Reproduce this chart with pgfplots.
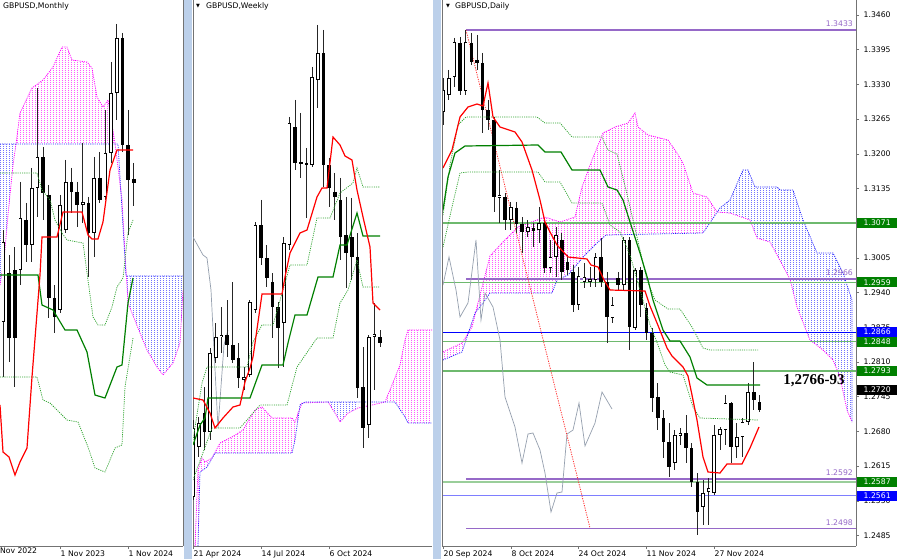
\documentclass[border=0pt]{standalone}
\usepackage{fontspec}
\setmainfont{DejaVu Sans}
\newfontfamily\tnr{Liberation Serif}
\usepackage{pgfplots}
\pgfplotsset{compat=1.18}
\usepackage{pgfplotstable}
\usetikzlibrary{patterns}
\pgfdeclarepatternformonly{vdots}{\pgfqpoint{0pt}{0pt}}{\pgfqpoint{2.83pt}{2pt}}{\pgfqpoint{2.83pt}{2pt}}{\pgfpathrectangle{\pgfqpoint{0pt}{0pt}}{\pgfqpoint{0.9pt}{1pt}}\pgfusepath{fill}}
\definecolor{sepblue}{RGB}{188,208,234}
\definecolor{ared}{RGB}{255,0,0}
\definecolor{kgreen}{RGB}{0,128,0}
\definecolor{dgreen}{RGB}{50,165,50}
\definecolor{cgray}{RGB}{150,160,175}
\definecolor{lpurple}{RGB}{150,105,200}
\definecolor{lgreen}{RGB}{110,185,110}
\definecolor{boxgreen}{RGB}{0,128,0}
\definecolor{boxblue}{RGB}{0,0,255}
\definecolor{cmag}{RGB}{255,0,255}
\definecolor{cblue}{RGB}{40,40,255}
\newcommand{\tf}{\fontsize{7.7}{9}\selectfont}

% ---------- candle tables (pixel rows: top/bottom of body, high/low) ----------
\pgfplotstableread{
x top bot hi lo
3.3 242 322 230 377
20.3 218 270 182 285
31.7 188 245 168 262
37.3 157 188 88 217
60 205 310 195 313
65.7 182 230 160 233
82.7 202 205 143 223
94 178 233 157 257
105.3 153 197 110 200
111 93 153 62 163
116.7 38 93 24 120
}\mbull
\pgfplotstableread{
x top bot hi lo
9 273 338 255 362
14.7 270 338 247 387
26 220 245 203 262
43 157 193 147 220
48.7 195 298 185 318
54.3 298 317 285 333
71.3 182 192 168 213
77 192 205 182 227
88.3 203 233 197 277
99.7 178 200 152 203
122.3 38 145 33 152
128 145 180 110 235
133.7 179 183 163 206
}\mbear
\pgfplotstableread{
x top bot hi lo
193 428 497 420 500
198.7 423 447 417 457
210 353 432 348 440
215.7 337 358 323 363
221.3 335 337 307 353
244 377 380 367 390
249.7 302 375 300 377
255.3 225 310 222 313
283.7 243 323 237 367
289.3 123 245 117 250
312 77 165 67 167
317.7 53 80 25 108
368.7 337 425 335 438
374.3 334 337 303 390
}\wbull
\pgfplotstableread{
x top bot hi lo
204.3 413 432 387 450
227 335 345 300 357
232.7 345 360 282 363
238.3 358 378 343 388
261 225 258 200 265
266.7 258 278 245 287
272.3 282 307 273 338
278 307 328 302 368
295 127 163 100 170
300.7 162 164 113 178
306.3 163 165 148 218
323.3 53 165 30 187
329 165 188 158 207
334.7 192 197 173 220
340.3 200 237 178 260
346 235 253 197 288
351.7 237 257 198 280
357.3 257 388 233 398
363 387 428 347 448
380 337 343 330 347
}\wbear
\pgfplotstableread{
x top bot hi lo
443 90 112 78 125
448.7 78 95 70 100
454.3 42 77 38 87
465.6 42 91 30 95
499.5 195 198 170 223
510.8 207 220 202 230
527.8 227 232 220 237
539.1 223 230 207 243
550.4 257 268 240 273
556 235 257 227 277
578.6 276 305 267 310
584.3 277 282 263 288
589.9 279 282 267 287
595.6 257 280 253 287
612.5 305 318 297 323
623.8 240 285 237 290
635.1 270 328 268 330
674.7 435 463 430 470
680.3 433 436 428 445
702.9 493 507 480 525
708.6 488 492 478 525
714.2 435 493 425 495
719.9 429 435 427 450
725.5 403 430 395 445
736.8 437 447 423 458
742.5 422 437 418 457
748.1 392 422 383 425
}\dbull
\pgfplotstableread{
x top bot hi lo
460 43 91 37 95
471.3 43 62 33 65
476.9 60 63 35 70
482.6 63 110 53 133
488.2 110 120 100 130
493.9 120 197 117 212
505.2 197 220 193 230
516.5 208 224 202 233
522.1 224 232 217 253
533.4 228 231 223 247
544.7 223 268 220 273
561.7 240 272 233 280
567.3 262 270 255 275
573 272 305 265 312
601.2 257 282 238 287
606.9 282 317 272 343
618.2 278 285 272 290
629.5 240 327 237 350
640.8 270 305 267 317
646.4 308 333 303 340
652.1 333 398 328 412
657.7 397 418 383 430
663.4 418 442 410 458
669 442 467 423 477
686 433 448 415 463
691.6 448 482 443 487
697.3 482 512 473 535
731.2 403 447 402 463
753.8 392 400 362 410
759.4 402 410 395 412
}\dbear

\pgfplotsset{
 panel/.style={scale only axis, anchor=north west, ymin=-546, ymax=0,
   axis x line*=bottom, axis line style={-, draw=black!55, line width=0.6pt},
   tick align=outside, major tick length=3pt, tick style={draw=black!55, line width=0.5pt},
   ytick=\empty,
   xticklabel style={anchor=north west, inner sep=0pt, xshift=0.5pt, yshift=-1.2pt, font=\tf},
   yticklabel style={anchor=west, inner sep=0pt, xshift=4.5pt, font=\tf}},
 wick/.style={draw=none, forget plot, error bars/.cd, y dir=minus, y explicit, error mark=none,
   error bar style={draw=black!85, line width=0.7pt, solid}},
 bodyk/.style={draw=none, forget plot, error bars/.cd, y dir=minus, y explicit, error mark=none,
   error bar style={draw=black, line width=3.6pt, solid}},
 bodyw/.style={draw=none, forget plot, error bars/.cd, y dir=minus, y explicit, error mark=none,
   error bar style={draw=white, line width=2.2pt, solid}},
 dotl/.style={dash pattern=on 1.1pt off 1.1pt, line width=0.75pt},
}
\newcommand{\candles}[2]{%
 \addplot[wick] table[x=x, y expr=-\thisrow{hi}, y error minus expr={\thisrow{lo}-\thisrow{hi}}] {#1};
 \addplot[wick] table[x=x, y expr=-\thisrow{hi}, y error minus expr={\thisrow{lo}-\thisrow{hi}}] {#2};
 \addplot[bodyk] table[x=x, y expr=-\thisrow{top}, y error minus expr={\thisrow{bot}-\thisrow{top}}] {#1};
 \addplot[bodyw] table[x=x, y expr=-\thisrow{top}-0.7, y error minus expr={\thisrow{bot}-\thisrow{top}-1.4}] {#1};
 \addplot[bodyk] table[x=x, y expr=-\thisrow{top}, y error minus expr={\thisrow{bot}-\thisrow{top}}] {#2};
}

\begin{document}
\begin{tikzpicture}
\fill[white] (0,0) rectangle (900pt,-559pt);

% ================= MONTHLY =================
\begin{axis}[panel, at={(0pt,0pt)}, width=183pt, height=546pt, xmin=0, xmax=183,
  axis y line*=right, xtick={60,128}, xticklabels={1 Nov 2023,1 Nov 2024}]
\addplot[draw=none, pattern=vdots, pattern color=cblue, forget plot] coordinates {(0,-144)(16,-144)(13,-165)(8,-215)(4,-260)(0,-285)};
\addplot[draw=none, pattern=vdots, pattern color=cmag, forget plot] coordinates {(16,-144)(20,-113)(32,-88)(43,-80)(53,-67)(62,-47)(67,-47)(72,-60)(87,-62)(92,-68)(97,-97)(103,-107)(108,-100)(115,-143)(16,-144)};
\addplot[draw=none, pattern=vdots, pattern color=cblue, forget plot] coordinates {(126,-276)(183,-276)(183,-290)(180,-343)(173,-363)(163,-375)(157,-367)(147,-350)(140,-333)(128,-303)};
\addplot[cmag, dotl] coordinates {(0,-285)(4,-260)(8,-215)(13,-165)(16,-144)(20,-113)(32,-88)(43,-80)(53,-67)(62,-47)(67,-47)(72,-60)(87,-62)(92,-68)(97,-97)(103,-107)(108,-100)(115,-143)(122,-200)(126,-270)(128,-303)(140,-333)(147,-350)(157,-367)(163,-375)(173,-363)(180,-343)(183,-290)};
\addplot[cblue, dotl] coordinates {(0,-144)(118,-144)(126,-276)(183,-276)};
\candles{\mbull}{\mbear}
\addplot[dgreen, dotl] coordinates {(0,-173)(37,-173)(42,-190)(50,-200)(55,-220)(62,-233)(67,-240)(83,-243)(88,-280)(93,-317)(98,-325)(105,-325)(112,-307)(117,-287)(123,-278)(128,-233)(133,-220)};
\addplot[dgreen, dotl] coordinates {(0,-377)(37,-377)(43,-400)(50,-403)(67,-420)(78,-422)(88,-447)(95,-468)(105,-472)(115,-448)(122,-445)(125,-387)(133,-338)};
\addplot[kgreen, line width=1.2pt] coordinates {(0,-275)(38,-275)(42,-305)(53,-310)(65,-330)(77,-330)(87,-352)(95,-395)(105,-398)(117,-367)(122,-365)(128,-303)(133,-278)};
\addplot[ared, line width=1.2pt] coordinates {(0,-405)(3,-452)(9,-457)(15,-475)(20,-462)(27,-448)(32,-377)(40,-275)(42,-237)(57,-237)(63,-212)(82,-212)(88,-235)(92,-239)(98,-239)(103,-222)(110,-170)(117,-150)(133,-150)};
\end{axis}

% ================= WEEKLY =================
\begin{axis}[panel, at={(193pt,0pt)}, width=239pt, height=546pt, xmin=193, xmax=432,
  axis y line*=left, xtick={193,261,329}, xticklabels={21 Apr 2024,14 Jul 2024,6 Oct 2024}]
\addplot[draw=none, pattern=vdots, pattern color=cmag, forget plot] coordinates {(195,-546)(198,-470)(202,-458)(205,-462)(212,-458)(220,-443)(232,-437)(243,-430)(255,-410)(262,-407)(272,-418)(292,-418)(295,-422)(300,-404)(295,-440)(292,-453)(215,-453)(207,-467)(200,-472)(198,-546)};
\addplot[draw=none, pattern=vdots, pattern color=cblue, forget plot] coordinates {(328,-402)(358,-402)(358,-408)(348,-413)(340,-422)(335,-413)};
\addplot[draw=none, pattern=vdots, pattern color=cmag, forget plot] coordinates {(385,-402)(392,-385)(400,-365)(405,-340)(408,-330)(432,-330)(432,-423)(408,-423)(405,-417)(395,-402)};
\addplot[cmag, dotl] coordinates {(195,-546)(198,-470)(202,-458)(205,-462)(212,-458)(220,-443)(232,-437)(243,-430)(255,-410)(262,-407)(272,-418)(292,-418)(295,-422)(302,-403)(328,-402)(335,-413)(340,-422)(348,-413)(358,-408)(372,-405)(385,-402)(392,-385)(400,-365)(405,-340)(408,-330)(432,-330)};
\addplot[cblue, dotl] coordinates {(198,-546)(200,-472)(207,-467)(215,-453)(222,-453)(292,-453)(295,-440)(300,-405)(305,-402)(395,-402)(405,-417)(408,-423)(432,-423)};
\addplot[cgray, line width=0.7pt] coordinates {(193,-237)(203,-255)(207,-258)(211,-290)(218,-428)(224,-345)(228,-330)};
\candles{\wbull}{\wbear}
\addplot[dgreen, dotl] coordinates {(193,-440)(202,-383)(207,-367)(247,-367)(253,-342)(262,-325)(273,-325)(285,-283)(290,-265)(307,-265)(317,-218)(330,-218)(340,-193)(353,-183)(357,-168)(363,-187)(380,-187)};
\addplot[dgreen, dotl] coordinates {(193,-480)(212,-428)(240,-428)(260,-405)(287,-405)(297,-367)(317,-338)(333,-338)(340,-303)(348,-290)(357,-260)(363,-287)(380,-287)};
\addplot[kgreen, line width=1.2pt] coordinates {(193,-445)(200,-425)(205,-418)(208,-398)(250,-398)(262,-365)(283,-365)(288,-343)(295,-315)(307,-315)(318,-277)(333,-277)(340,-245)(347,-245)(357,-213)(363,-236)(380,-236)};
\addplot[ared, line width=1.2pt] coordinates {(193,-398)(203,-400)(210,-413)(215,-428)(223,-418)(233,-407)(240,-405)(245,-382)(250,-368)(253,-357)(262,-294)(282,-294)(285,-277)(290,-253)(300,-233)(307,-230)(317,-197)(322,-188)(327,-188)(333,-137)(340,-145)(345,-156)(352,-160)(357,-190)(363,-217)(370,-247)(373,-303)(380,-310)};
\end{axis}

% ================= DAILY =================
\begin{axis}[panel, at={(442pt,0pt)}, width=414pt, height=546pt, xmin=442, xmax=856,
  axis y line*=right, xtick={443,511,578,646,714},
  xticklabels={20 Sep 2024,8 Oct 2024,24 Oct 2024,11 Nov 2024,27 Nov 2024},
  ytick={-15,-49.7,-84.4,-119.1,-153.8,-188.5,-223.2,-257.9,-292.6,-327.3,-362,-396.7,-431.4,-466.1,-500.8,-535.5},
  yticklabels={1.3460,1.3395,1.3330,1.3265,1.3200,1.3135,1.3070,1.3005,1.2940,1.2875,1.2810,1.2745,1.2680,1.2615,1.2550,1.2485}]
\addplot[draw=none, pattern=vdots, pattern color=cmag, forget plot] coordinates {(443,-352)(462,-343)(472,-327)(478,-303)(490,-256)(502,-243)(518,-227)(545,-217)(560,-222)(575,-217)(582,-187)(592,-160)(603,-133)(615,-127)(628,-123)(635,-113)(638,-127)(648,-135)(668,-140)(677,-153)(683,-163)(693,-193)(707,-197)(717,-212)(703,-233)(606,-235)(597,-243)(585,-255)(568,-275)(557,-280)(552,-293)(490,-293)(483,-303)(475,-313)(462,-352)(443,-360)};
\addplot[draw=none, pattern=vdots, pattern color=cblue, forget plot] coordinates {(717,-212)(720,-208)(730,-200)(743,-170)(748,-170)(755,-187)(777,-187)(780,-190)(793,-190)(803,-220)(817,-253)(833,-253)(843,-273)(852,-300)(852,-422)(847,-410)(840,-377)(833,-360)(823,-350)(810,-340)(797,-307)(790,-279)(770,-242)(757,-238)(750,-220)(730,-213)};
\addplot[cmag, dotl] coordinates {(443,-352)(462,-343)(472,-327)(478,-303)(490,-256)(502,-243)(518,-227)(545,-217)(560,-222)(575,-217)(582,-187)(592,-160)(603,-133)(615,-127)(628,-123)(635,-113)(638,-127)(648,-135)(668,-140)(677,-153)(683,-163)(693,-193)(707,-197)(717,-212)(730,-213)(750,-220)(757,-238)(770,-242)(790,-279)(797,-307)(810,-340)(823,-350)(833,-360)(840,-377)(847,-410)(852,-422)};
\addplot[cblue, dotl] coordinates {(443,-360)(462,-352)(475,-313)(483,-303)(490,-293)(552,-293)(557,-280)(568,-275)(585,-255)(597,-243)(606,-235)(703,-233)(720,-208)(730,-200)(743,-170)(748,-170)(755,-187)(777,-187)(780,-190)(793,-190)(803,-220)(817,-253)(833,-253)(843,-273)(852,-300)(852,-422)};
% horizontal levels
\addplot[lpurple, line width=1.3pt] coordinates {(466,-30)(856,-30)};
\addplot[lgreen, line width=1.4pt] coordinates {(442,-223)(856,-223)};
\addplot[lpurple, line width=1.3pt] coordinates {(466,-279)(856,-279)};
\addplot[lgreen, line width=1.3pt] coordinates {(442,-282.4)(856,-282.4)};
\addplot[boxblue, line width=0.9pt] coordinates {(442,-332)(856,-332)};
\addplot[lgreen, line width=1.2pt] coordinates {(442,-341.5)(856,-341.5)};
\addplot[lgreen, line width=1.2pt] coordinates {(442,-371)(856,-371)};
\addplot[lgreen!70, line width=2.6pt] coordinates {(442,-481.8)(856,-481.8)};
\addplot[lpurple, line width=1.3pt] coordinates {(466,-479)(856,-479)};
\addplot[cblue!60, line width=1.3pt] coordinates {(442,-495.5)(856,-495.5)};
\addplot[lpurple, line width=1.3pt] coordinates {(466,-528.5)(856,-528.5)};
\addplot[cgray, line width=0.7pt] coordinates {(443,-285)(449,-257)(456,-290)(460,-317)(468,-303)(476,-240)(481,-320)(485,-293)(493,-307)(500,-340)(505,-397)(515,-427)(522,-463)(528,-434)(533,-433)(540,-450)(545,-473)(551,-512)(557,-493)(562,-492)(567,-434)(573,-430)(579,-403)(585,-446)(595,-423)(602,-392)(612,-409)};
\addplot[ared!80, dash pattern=on 1.2pt off 1.2pt, line width=0.8pt] coordinates {(466,-30)(590,-528)};
\candles{\dbull}{\dbear}
\addplot[dgreen, dotl] coordinates {(443,-215)(450,-165)(458,-125)(466,-117)(537,-117)(545,-123)(560,-123)(572,-137)(602,-137)(608,-150)(617,-154)(626,-190)(633,-220)(640,-250)(647,-280)(655,-300)(668,-309)(680,-309)(692,-327)(703,-348)(710,-350)(758,-350)};
\addplot[dgreen, dotl] coordinates {(443,-247)(452,-207)(460,-173)(468,-172)(538,-172)(545,-182)(560,-182)(572,-203)(602,-203)(610,-225)(620,-232)(630,-255)(640,-290)(650,-325)(658,-345)(665,-365)(670,-372)(683,-375)(693,-407)(700,-418)(758,-420)};
\addplot[kgreen, line width=1.2pt] coordinates {(443,-210)(448,-177)(455,-153)(465,-146)(538,-145)(545,-152)(561,-152)(572,-170)(600,-170)(608,-187)(617,-190)(623,-200)(630,-222)(640,-253)(648,-280)(653,-300)(663,-330)(670,-341)(680,-341)(690,-357)(697,-378)(707,-385)(760,-385)};
\addplot[ared, line width=1.2pt] coordinates {(443,-168)(452,-150)(460,-117)(468,-107)(477,-104)(483,-106)(488,-83)(493,-117)(500,-127)(515,-132)(522,-142)(532,-170)(540,-200)(545,-222)(550,-232)(557,-245)(568,-257)(587,-259)(591,-265)(598,-267)(604,-280)(610,-290)(645,-291)(650,-306)(657,-323)(667,-348)(672,-356)(683,-367)(688,-376)(692,-395)(697,-420)(703,-457)(708,-472)(720,-473)(727,-464)(742,-464)(750,-448)(759,-427)};
\end{axis}

% separators
\fill[sepblue] (183.6pt,0) rectangle (192.4pt,-559pt);
\fill[sepblue] (432.6pt,0) rectangle (441.4pt,-559pt);
\draw[black!55, line width=0.6pt] (442pt,0) -- (442pt,-546pt);

% titles
\node[anchor=west, inner sep=0, font=\tf] at (3pt,-6pt) {GBPUSD,Monthly};
\node[anchor=west, inner sep=0, font=\fontsize{5}{5}\selectfont] at (196pt,-6pt) {▼};
\node[anchor=west, inner sep=0, font=\tf] at (206pt,-6pt) {GBPUSD,Weekly};
\node[anchor=west, inner sep=0, font=\fontsize{5}{5}\selectfont] at (446pt,-6pt) {▼};
\node[anchor=west, inner sep=0, font=\tf] at (455pt,-6pt) {GBPUSD,Daily};
\node[anchor=north west, inner sep=0, font=\tf] at (-7.5pt,-547.2pt) {1 Nov 2022};

% level labels
\foreach \y/\t in {24/1.3433, 273/1.2966, 473/1.2592, 522.5/1.2498}
  \node[anchor=east, inner sep=0, text=lpurple, font=\tf] at (853pt,-\y pt) {\t};
\foreach \y/\t/\c in {223/1.3071/boxgreen, 282.4/1.2959/boxgreen, 332/1.2866/boxblue, 341.8/1.2848/boxgreen, 371/1.2793/boxgreen, 390/1.2720/black, 481.8/1.2587/boxgreen, 495.5/1.2561/boxblue}
  \node[anchor=west, fill=\c, text=white, inner sep=0, minimum height=10pt, minimum width=40pt, font=\tf] at (857pt,-\y pt) {\t};
\node[font={\tnr\bfseries\fontsize{15}{15}\selectfont}] at (814pt,-381pt) {1,2766-93};

\pgfresetboundingbox
\path (0,0) rectangle (900pt,-559pt);
\end{tikzpicture}
\end{document}
